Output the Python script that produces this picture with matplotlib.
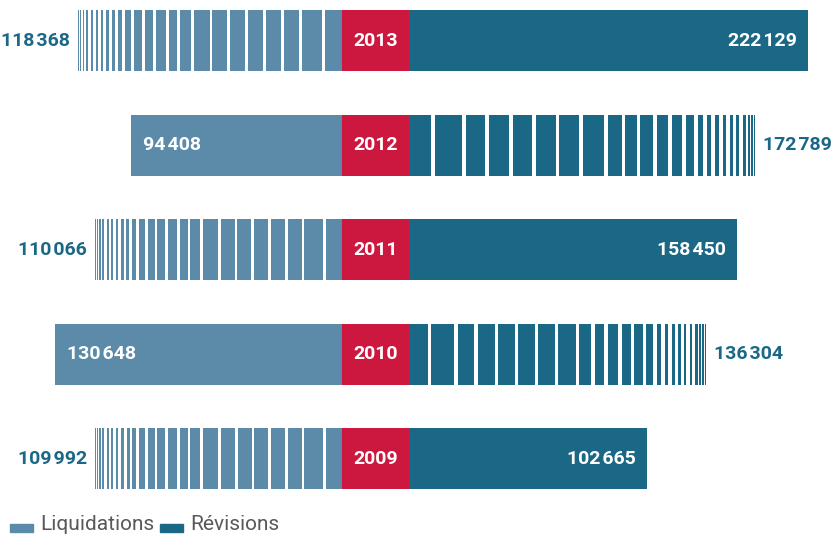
import matplotlib
matplotlib.use('Agg')
import matplotlib.pyplot as plt
import numpy as np
from matplotlib.patches import Rectangle

years = ['2009', '2010', '2011', '2012', '2013']
liquidations = [109992, 130648, 110066, 94408, 118368]
revisions = [102665, 136304, 158450, 172789, 222129]
# hatched ("broken") bars in the original
liq_striped = [True, False, True, False, True]
rev_striped = [False, True, False, True, False]

c_liq = '#5B8BA8'
c_rev = '#1B6886'
c_red = '#CC173F'
c_legend = '#58595B'
fam = ['Roboto', 'DejaVu Sans']

W, H = 833, 534
fig = plt.figure(figsize=(W / 100, H / 100), dpi=100)

ax_l = fig.add_axes([0, 0, 342 / W, 1])
ax_m = fig.add_axes([342 / W, 0, 67 / W, 1])
ax_r = fig.add_axes([409 / W, 0, 424 / W, 1])

# both sides use a log scale starting from a base value at the centre box
base_l, max_l = 37800, 166100
base_r, max_r = 32700, 251100
h = 0.584
ys = np.arange(len(years))

# stripe pattern (pixel-ish widths from the inner edge outwards)
SEG = [16, 19, 14, 14, 14, 14, 14, 15, 10, 8, 9, 8, 7, 6, 4, 3, 3, 2, 2, 2, 2, 1.5, 1.2, 1]
GAP = [2.7] * 20 + [1.3, 1.0, 0.8]


def striped(ax, y, value, base, color):
    edges = []
    pos = 0
    for i, w in enumerate(SEG):
        edges.append((pos, pos + w))
        pos += w + (GAP[i] if i < len(GAP) else 0)
    span = np.log(value / base)
    for a, b in edges:
        x0 = base * np.exp(span * a / pos)
        x1 = base * np.exp(span * b / pos)
        ax.barh(y, x1 - x0, left=x0, height=h, color=color, edgecolor='none')


def fmt(v):
    return f'{v:,}'.replace(',', '\u200a')


lab_kw = dict(textcoords='offset pixels', va='center', fontsize=14,
              fontweight='bold', family=fam)

for i, y in enumerate(ys):
    v = liquidations[i]
    if liq_striped[i]:
        striped(ax_l, y, v, base_l, c_liq)
        ax_l.annotate(fmt(v), xy=(v, y), xytext=(-8, 0), ha='right', color=c_rev, **lab_kw)
    else:
        ax_l.barh(y, v - base_l, left=base_l, height=h, color=c_liq, edgecolor='none')
        ax_l.annotate(fmt(v), xy=(v, y), xytext=(12, 0), ha='left', color='white', **lab_kw)

    v = revisions[i]
    if rev_striped[i]:
        striped(ax_r, y, v, base_r, c_rev)
        ax_r.annotate(fmt(v), xy=(v, y), xytext=(8, 0), ha='left', color=c_rev, **lab_kw)
    else:
        ax_r.barh(y, v - base_r, left=base_r, height=h, color=c_rev, edgecolor='none')
        ax_r.annotate(fmt(v), xy=(v, y), xytext=(-11, 0), ha='right', color='white', **lab_kw)

ax_m.barh(ys, 1, left=0, height=h, color=c_red, edgecolor='none')
for y, yr in zip(ys, years):
    ax_m.text(0.5, y, yr, ha='center', va='center', color='white', fontsize=14,
              fontweight='bold', family=fam)

ax_l.set_xscale('log')
ax_l.set_xlim(max_l, base_l)
ax_r.set_xscale('log')
ax_r.set_xlim(base_r, max_r)
ax_m.set_xlim(0, 1)
for ax in (ax_l, ax_m, ax_r):
    ax.set_ylim(-0.722, 4.388)
    ax.set_axis_off()

# legend along the bottom edge
for x0, col, lab in [(10, c_liq, 'Liquidations'), (160, c_rev, 'Révisions')]:
    fig.add_artist(Rectangle((x0 / W, 2 / H), 23 / W, 8 / H, color=col,
                             transform=fig.transFigure))
    fig.text((x0 + 30) / W, 4 / H, lab, ha='left', va='baseline', color=c_legend,
             fontsize=15, family=fam)

fig.savefig('out.png', dpi=100)
